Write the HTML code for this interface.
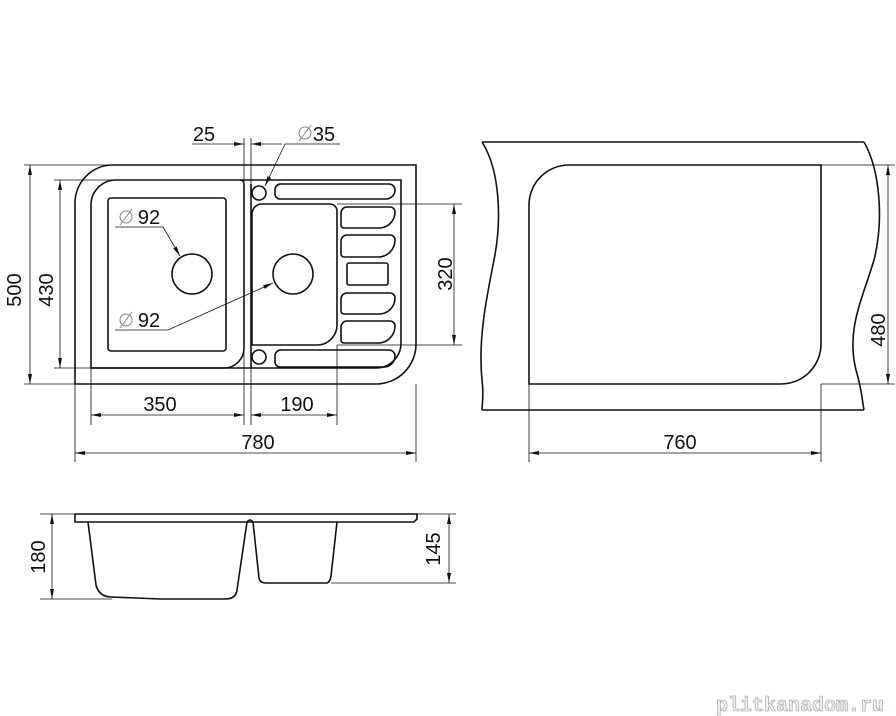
<!DOCTYPE html>
<html><head><meta charset="utf-8"><style>
html,body{margin:0;padding:0;background:#fff;}
svg{display:block;}
text{font-family:"Liberation Sans",sans-serif;fill:#111;}
</style></head><body>
<svg width="896" height="716" viewBox="0 0 896 716" xmlns="http://www.w3.org/2000/svg">
<defs>
<marker id="a" viewBox="0 0 10 4" refX="10" refY="2" markerWidth="10" markerHeight="4" markerUnits="userSpaceOnUse" orient="auto-start-reverse"><path d="M0,0 L10,2 L0,4 z" fill="#111"/></marker>
</defs>
<g fill="none" stroke="#111" stroke-width="1.6">
<!-- outer top view -->
<path d="M113,165 H416 V344 A40,40 0 0 1 376,384 H75 V203 A38,38 0 0 1 113,165 Z"/>
<!-- inner rim -->
<path d="M116,180 H401 V343 A25,25 0 0 1 376,368 H91 V205 A25,25 0 0 1 116,180 Z"/>
<!-- left bowl -->
<path d="M91,368 H224 A20,20 0 0 0 244,348 V184 A4,4 0 0 0 240,180"/>
<path d="M251,368 V184"/>
<rect x="108" y="198" width="118" height="153" rx="3"/>
<circle cx="192" cy="274" r="20"/>
<!-- right bowl -->
<path d="M262,204 H330 A7,7 0 0 1 337,211 V325 A20,20 0 0 1 317,345 H252 V214 A10,10 0 0 1 262,204 Z"/>
<circle cx="293" cy="274" r="20"/>
<circle cx="259" cy="193" r="7"/>
<circle cx="259" cy="357" r="7"/>
<path d="M282,184 H389 A6,6 0 0 1 395,190 A9,9 0 0 1 386,199 H280 A5,5 0 0 1 275,194 V190 A6,6 0 0 1 282,184 Z"/>
<path d="M282,350 H389 A6,6 0 0 1 395,356 A11,11 0 0 1 384,367 H280 A5,5 0 0 1 275,362 V356 A6,6 0 0 1 282,350 Z"/>
<path d="M347,207 H390 A5,5 0 0 1 395,212 A16,16 0 0 1 379,228 H344 A3,3 0 0 1 341,225 V213 A6,6 0 0 1 347,207 Z"/>
<path d="M347,235 H390 A5,5 0 0 1 395,240 A17,17 0 0 1 378,257 H344 A3,3 0 0 1 341,254 V241 A6,6 0 0 1 347,235 Z"/>
<rect x="347" y="263" width="41" height="22" rx="2"/>
<path d="M347,293 H390 A5,5 0 0 1 395,298 A16,16 0 0 1 379,314 H344 A3,3 0 0 1 341,311 V299 A6,6 0 0 1 347,293 Z"/>
<path d="M347,321 H390 A5,5 0 0 1 395,326 A17,17 0 0 1 378,343 H344 A3,3 0 0 1 341,340 V327 A6,6 0 0 1 347,321 Z"/>
<!-- right cutout panel -->
<path d="M482,142 H864"/>
<path d="M482,410 H864"/>
<path d="M482,142 C500,170 502,220 494,260 C486,300 478,340 482,380 C484,395 482,405 482,410"/>
<path d="M864,142 C880,170 884,220 874,260 C862,300 846,330 856,370 C862,390 862,400 864,410"/>
<path d="M569,165 H821 V344 A40,40 0 0 1 781,384 H529 V205 A40,40 0 0 1 569,165 Z"/>
<!-- side view -->
<path d="M75,514 H417 V519 L414,522 H75 Z"/>
<path d="M88,522 L96,585 Q99,597 112,597 L160,599 H225 Q236,599 237,590 L247,522"/>
<path d="M247,522 Q250,518 253,522"/>
<path d="M253,522 L259,578 Q260,583 266,583 H326 Q330,583 331,576 L337,522"/>
</g>
<g fill="none" stroke="#111" stroke-width="0.8">
<!-- extension lines top view -->
<path d="M24,165 H113 M54,180 H116 M24,384 H75 M54,368 H91"/>
<path d="M244,138 V425 M251,138 V425 M75,384 V462 M91,368 V425 M337,345 V425 M416,384 V462"/>
<path d="M337,204 H462 M337,345 H462"/>
<path d="M821,165 H895 M821,384 H895 M529,384 V462 M821,384 V462"/>
<path d="M40,514 H75 M40,599 H112 M417,514 H456 M331,583 H456"/>
<!-- dims -->
<path d="M30,165 V384" marker-start="url(#a)" marker-end="url(#a)"/>
<path d="M60,180 V368" marker-start="url(#a)" marker-end="url(#a)"/>
<path d="M454,204 V345" marker-start="url(#a)" marker-end="url(#a)"/>
<path d="M91,415 H244" marker-start="url(#a)" marker-end="url(#a)"/>
<path d="M251,415 H337" marker-start="url(#a)" marker-end="url(#a)"/>
<path d="M75,453 H416" marker-start="url(#a)" marker-end="url(#a)"/>
<path d="M529,453 H821" marker-start="url(#a)" marker-end="url(#a)"/>
<path d="M888,165 V384" marker-start="url(#a)" marker-end="url(#a)"/>
<path d="M52,514 V599" marker-start="url(#a)" marker-end="url(#a)"/>
<path d="M449,514 V583" marker-start="url(#a)" marker-end="url(#a)"/>
<path d="M192,144 H244" marker-end="url(#a)"/>
<path d="M282,144 H251" marker-end="url(#a)"/>
<!-- leaders -->
<path d="M285,144 H340 M285,144 L265,186" marker-end="url(#a)"/>
<path d="M115,227 H163 L180,256" marker-end="url(#a)"/>
<path d="M115,330 H168 L273,283" marker-end="url(#a)"/>
</g>
<g font-size="20" text-anchor="middle">
<text x="204" y="141">25</text>
<text x="324" y="141">35</text>
<text x="149" y="224">92</text>
<text x="149" y="327">92</text>
<text x="160" y="411">350</text>
<text x="297" y="411">190</text>
<text x="258" y="449">780</text>
<text x="680" y="449">760</text>
<text transform="translate(21,290) rotate(-90)">500</text>
<text transform="translate(53,290) rotate(-90)">430</text>
<text transform="translate(452,274) rotate(-90)">320</text>
<text transform="translate(885,330) rotate(-90)">480</text>
<text transform="translate(45,557) rotate(-90)">180</text>
<text transform="translate(440,549) rotate(-90)">145</text>
</g>
<g fill="none" stroke="#888" stroke-width="1">
<circle cx="305" cy="133" r="6"/><path d="M299,141 L311,125"/>
<circle cx="126" cy="217" r="6"/><path d="M120,225 L132,209"/>
<circle cx="126" cy="320" r="6"/><path d="M120,328 L132,312"/>
</g>
<text x="800" y="711" font-size="20" text-anchor="middle" style="fill:#f2f2e8;stroke:#999;stroke-width:0.6;font-family:'Liberation Mono',monospace;font-weight:bold">plitkanadom.ru</text>
</svg>
</body></html>
